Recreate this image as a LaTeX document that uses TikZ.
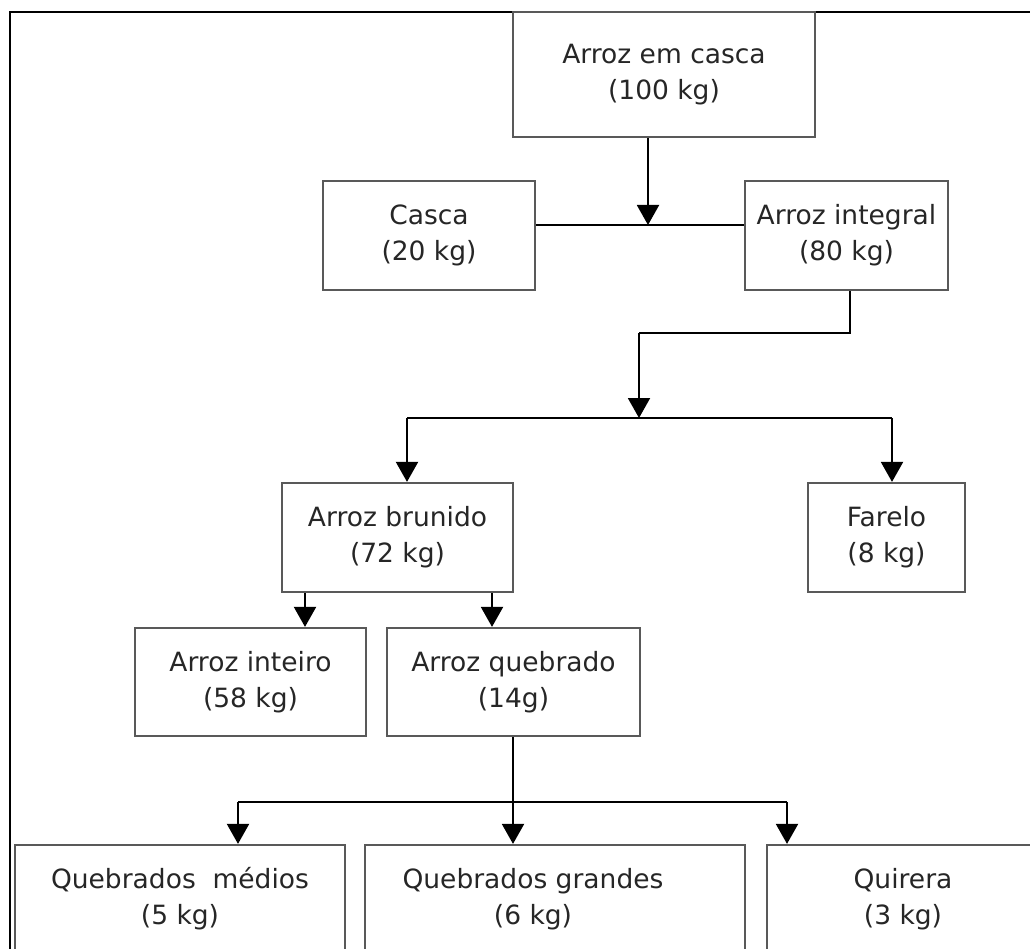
\documentclass[tikz,border=0pt]{standalone}
\usepackage{fontspec}
\setmainfont{DejaVu Sans}
\usetikzlibrary{arrows.meta}
\begin{document}
\begin{tikzpicture}[x=1pt,y=-1pt,
  box/.style={draw=black!65, line width=2.2pt, rectangle, inner sep=0pt, align=center,
    font=\fontsize{26.5}{36}\selectfont, text=black!85},
  lbl/.style={inner sep=0pt, align=center, font=\fontsize{26.5}{36}\selectfont, text=black!85},
  conn/.style={draw=black, line width=2pt},
  arr/.style={conn, -{Triangle[width=22pt,length=20pt]}},
  frame/.style={draw=black, line width=2.4pt}]
\useasboundingbox (0,0) rectangle (1030,949);
\clip (0,0) rectangle (1030,949);
% outer frame
\coordinate (fbl) at (10,960);
\coordinate (ftl) at (10,12);
\coordinate (ftr) at (1040,12);
\draw[frame] (fbl) -- (ftl) -- (ftr);
% boxes
\node[box, minimum width=302pt, minimum height=125pt] (top) at (664,74.5) {Arroz em casca\\(100 kg)};
\node[box, minimum width=212pt, minimum height=109pt] (casca) at (429,235.5) {Casca\\(20 kg)};
\node[box, minimum width=203pt, minimum height=109pt] (integral) at (846.5,235.5) {Arroz integral\\(80 kg)};
\node[box, minimum width=231pt, minimum height=109pt] (brunido) at (397.5,537.5) {Arroz brunido\\(72 kg)};
\node[box, minimum width=157pt, minimum height=109pt] (farelo) at (886.5,537.5) {Farelo\\(8 kg)};
\node[box, minimum width=231pt, minimum height=108pt] (inteiro) at (250.5,682) {Arroz inteiro\\(58 kg)};
\node[box, minimum width=253pt, minimum height=108pt] (quebrado) at (513.5,682) {Arroz quebrado\\(14g)};
\node[box, minimum width=330pt, minimum height=108pt] (medios) at (180,899) {Quebrados~~médios\\(5 kg)};
\node[box, minimum width=380pt, minimum height=108pt] (grandes) at (555,899) {};
\node[lbl] (grandesT) at (533,899) {Quebrados grandes\\(6 kg)};
\node[box, minimum width=272pt, minimum height=108pt] (quirera) at (903,899) {Quirera\\(3 kg)};
% junction coordinates
\coordinate (j1) at (648,225);
\coordinate (j2) at (850,333);
\coordinate (j3) at (639,418);
\coordinate (j3l) at (407,418);
\coordinate (j3r) at (892,418);
\coordinate (b1) at (305,0);
\coordinate (b2) at (492,0);
\coordinate (j4) at (513,802);
\coordinate (j4l) at (238,802);
\coordinate (j4r) at (787,802);
% connectors
\draw[arr] (top.south -| j1) -- (j1);
\draw[conn] (casca.east |- j1) -- (integral.west |- j1);
\draw[conn] (integral.south -| j2) -- (j2) -- (j2 -| j3);
\draw[arr] (j2 -| j3) -- (j3);
\draw[conn] (j3l) -- (j3r);
\draw[arr] (j3l) -- (brunido.north -| j3l);
\draw[arr] (j3r) -- (farelo.north -| j3r);
\draw[arr] (brunido.south -| b1) -- (inteiro.north -| b1);
\draw[arr] (brunido.south -| b2) -- (quebrado.north -| b2);
\draw[conn] (quebrado.south -| j4) -- (j4);
\draw[conn] (j4l) -- (j4r);
\draw[arr] (j4) -- (grandes.north -| j4);
\draw[arr] (j4l) -- (medios.north -| j4l);
\draw[arr] (j4r) -- (quirera.north -| j4r);
\end{tikzpicture}
\end{document}
